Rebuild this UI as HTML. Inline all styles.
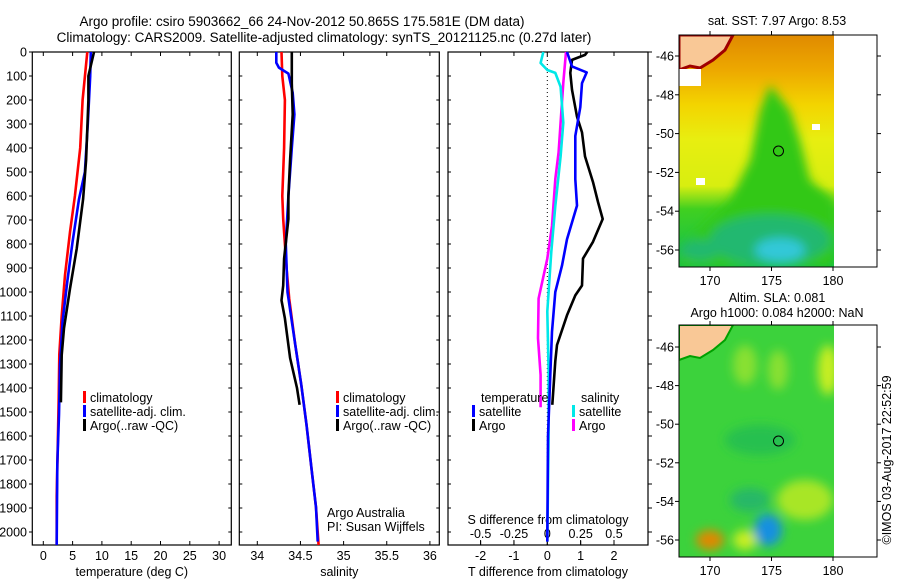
<!DOCTYPE html>
<html><head><meta charset="utf-8">
<style>
body{margin:0;background:#fff;}
svg{display:block;font-family:"Liberation Sans",sans-serif;}
text{font-size:12.5px;fill:#000;}
</style></head>
<body>
<svg id="fig" width="900" height="580" viewBox="0 0 900 580" xmlns="http://www.w3.org/2000/svg">
<defs>
<filter id="blur" x="-20%" y="-20%" width="140%" height="140%"><feGaussianBlur stdDeviation="5"/></filter>
<clipPath id="m1clip"><rect x="679" y="35" width="155" height="232"/></clipPath>
<clipPath id="m2clip"><rect x="679" y="325" width="155" height="232"/></clipPath>
<linearGradient id="sstg" x1="0" y1="0" x2="0" y2="1">
<stop offset="0" stop-color="#e08a00"/><stop offset="0.15" stop-color="#eda800"/><stop offset="0.3" stop-color="#f3d400"/>
<stop offset="0.45" stop-color="#e8ee10"/><stop offset="0.65" stop-color="#d8ee10"/><stop offset="0.75" stop-color="#40d020"/><stop offset="1" stop-color="#10c050"/>
</linearGradient>
</defs>
<text x="302" y="26" text-anchor="middle" style="font-size:13.5px">Argo profile: csiro 5903662_66 24-Nov-2012 50.865S 175.581E (DM data)</text>
<text x="324" y="42" text-anchor="middle" style="font-size:13.5px">Climatology: CARS2009. Satellite-adjusted climatology: synTS_20121125.nc (0.27d later)</text>
<g id="g"></g>
<!-- map 1 -->
<g>
<g clip-path="url(#m1clip)">
<rect x="679" y="35" width="155" height="232" fill="url(#sstg)"/>
<g filter="url(#blur)">
<polygon points="770,85 790,110 800,140 810,180 834,200 834,267 679,267 679,250 700,230 730,200 750,160 760,110" fill="#30c818"/>
<ellipse cx="770" cy="240" rx="60" ry="25" fill="#20b870"/>
<ellipse cx="780" cy="250" rx="25" ry="12" fill="#30c8d8"/>
<ellipse cx="700" cy="250" rx="20" ry="10" fill="#20b870"/>
</g>
<polygon points="679,35 733,35 725,50 713,60 700,68 690,66 679,70" fill="#f9c896" stroke="#a00000" stroke-width="3"/>
<rect x="679" y="69" width="22" height="17" fill="#fff"/>
<rect x="812" y="124" width="8" height="6" fill="#fff"/>
<rect x="696" y="178" width="9" height="7" fill="#fff"/>
</g>
<circle cx="778.5" cy="151" r="5" fill="none" stroke="#000"/>
<rect x="679" y="35" width="198" height="232" fill="none" stroke="#000"/>
<text x="777" y="25" text-anchor="middle">sat. SST: 7.97 Argo: 8.53</text>
</g>
<!-- map 2 -->
<g>
<g clip-path="url(#m2clip)">
<rect x="679" y="325" width="155" height="232" fill="#3cd23c"/>
<g filter="url(#blur)">
<ellipse cx="745" cy="365" rx="12" ry="20" fill="#88e030"/>
<ellipse cx="778" cy="370" rx="10" ry="20" fill="#88e030"/>
<ellipse cx="828" cy="370" rx="10" ry="25" fill="#c8ee20"/>
<ellipse cx="760" cy="440" rx="35" ry="15" fill="#28c050"/>
<ellipse cx="805" cy="500" rx="28" ry="20" fill="#a8e628"/>
<ellipse cx="750" cy="500" rx="20" ry="12" fill="#28b868"/>
<ellipse cx="745" cy="540" rx="12" ry="10" fill="#c8ee20"/>
<ellipse cx="768" cy="530" rx="14" ry="16" fill="#1890e0"/>
<ellipse cx="710" cy="540" rx="14" ry="10" fill="#e08800"/>
</g>
<polygon points="679,325 733,325 725,340 713,350 700,358 690,356 679,360" fill="#f9c896" stroke="#00a000" stroke-width="2"/>
</g>
<circle cx="778.5" cy="441" r="5" fill="none" stroke="#000"/>
<rect x="679" y="325" width="198" height="232" fill="none" stroke="#000"/>
<text x="777" y="302" text-anchor="middle">Altim. SLA: 0.081</text>
<text x="777" y="317" text-anchor="middle">Argo h1000: 0.084 h2000: NaN</text>
</g>
<text transform="translate(891,460) rotate(-90)" text-anchor="middle">©IMOS 03-Aug-2017 22:52:59</text>
</svg>
<script>
// ---------- data ----------
const depthTicks=[0,100,200,300,400,500,600,700,800,900,1000,1100,1200,1300,1400,1500,1600,1700,1800,1900,2000];
const tTicks=[0,5,10,15,20,25,30];
const sTicks=[34,34.5,35,35.5,36];
const sTickLabels=["34","34.5","35","35.5","36"];
const dTTicks=[-2,-1,0,1,2];
const dSTicks=[-0.5,-0.25,0,0.25,0.5];
const dSTickLabels=["-0.5","-0.25","0","0.25","0.5"];
const latTicks=[-46,-48,-50,-52,-54,-56];
const lonTicks=[170,175,180];

const tClimDepth=[0,200,400,600,750,930,1100,1260,1440,1650,1850,2054];
const tClimVal=[7.5,6.7,6.3,5.4,4.56,3.7,3.14,2.73,2.63,2.46,2.29,2.29];
const tSatDepth=[0,100,300,500,613,790,956,1122,1304,1511,1718,2054];
const tSatVal=[8.1,8.0,7.6,7.1,6.1,5.0,4.1,3.3,2.85,2.68,2.39,2.29];
const tArgoDepth=[0,100,200,450,613,820,986,1151,1263,1460];
const tArgoVal=[8.65,7.7,7.7,7.3,6.8,5.7,4.56,3.53,3.14,3.0];

const sClimDepth=[0,100,200,400,600,696,903,1027,1221,1387,1553,1743,1897,2054];
const sClimVal=[34.28,34.29,34.32,34.31,34.29,34.30,34.34,34.37,34.44,34.51,34.57,34.63,34.68,34.71];
const sSatDepth=[0,45,65,90,170,260,400,600,800,1000,1221,1387,1553,1743,1897,2040];
const sSatVal=[34.22,34.22,34.25,34.36,34.41,34.43,34.40,34.36,34.33,34.35,34.44,34.51,34.57,34.63,34.68,34.70];
const sArgoDepth=[0,130,260,450,600,696,861,973,1035,1110,1275,1400,1470];
const sArgoVal=[34.40,34.40,34.41,34.38,34.36,34.36,34.31,34.30,34.28,34.32,34.38,34.46,34.49];

const dTSatDepth=[0,60,85,130,230,350,530,640,780,890,1000,1165,1345,1600,2040];
const dTSatVal=[0.59,0.74,1.18,1.04,0.99,0.84,0.84,0.89,0.59,0.44,0.24,0.14,0.09,0.02,0.0];
const dTArgoDepth=[0,12,33,87,157,269,335,435,542,625,696,791,861,973,1014,1097,1221,1288,1470];
const dTArgoVal=[1.2,1.13,0.74,0.69,0.74,0.89,1.04,1.13,1.37,1.52,1.66,1.37,1.07,1.04,0.84,0.59,0.29,0.24,0.15];
const dSSatDepth=[0,46,75,87,145,294,435,642,832,1081,1329,1600,2040];
const dSSatVal=[-0.03,-0.05,0,0.06,0.1,0.12,0.1,0.06,0.03,0,0.01,0.01,0.0];
const dSArgoDepth=[0,128,294,418,530,725,861,1027,1193,1346,1480];
const dSArgoVal=[0.14,0.12,0.10,0.085,0.06,0.035,0.0,-0.065,-0.07,-0.05,-0.05];

// ---------- scales ----------
const yD=d=>52+d*0.24;
const xT=v=>43.3+v*5.86;
const xS=v=>257.3+(v-34)*86.3;
const xDT=v=>547.3+v*33.35;
const xDS=v=>547.3+v*133.4;
const yLat1=v=>56+(-46-v)*19.4;
const yLat2=v=>347+(-46-v)*19.3;
const xLon=v=>710+(v-170)*12.3;

const NS="http://www.w3.org/2000/svg";
const G=document.getElementById('g');
function mk(tag,attrs,parent){const e=document.createElementNS(NS,tag);for(const k in attrs)e.setAttribute(k,attrs[k]);(parent||G).appendChild(e);return e;}
function txt(x,y,s,anchor,parent){const e=mk('text',{x:x,y:y,'text-anchor':anchor||'middle'},parent);e.textContent=s;return e;}

function panel(x0,x1,name){
  const r=mk('rect',{x:x0,y:52,width:x1-x0,height:493,fill:'none',stroke:'#000','stroke-width':1.2});
  
  
}
panel(32.3,231.3,'temperature-panel');
panel(239.3,439.3,'salinity-panel');
panel(448,648,'difference-panel');

depthTicks.forEach(d=>{
  const y=yD(d);
  mk('line',{x1:29,x2:32.3,y1:y,y2:y,stroke:'#000'});
  const t=txt(27,y+4.5,String(d),'end');
  
  
  if(d>0){[231.3,439.3].forEach(x=>mk('line',{x1:x,x2:x-3,y1:y,y2:y,stroke:'#000'}));
  [239.3,448].forEach(x=>mk('line',{x1:x,x2:x+3,y1:y,y2:y,stroke:'#000'}));}
  mk('line',{x1:648,x2:652,y1:y,y2:y,stroke:'#000'});
});
function xticks(vals,labels,sc,ly,name){
  vals.forEach((v,i)=>{const x=sc(v);
    mk('line',{x1:x,x2:x,y1:52,y2:56,stroke:'#000'});
    mk('line',{x1:x,x2:x,y1:545,y2:541,stroke:'#000'});
    const t=txt(x,ly,labels[i]);
    
    });
}
xticks(tTicks,tTicks.map(String),xT,560,'temperature-tick-label');
xticks(sTicks,sTickLabels,xS,560,'salinity-tick-label');
xticks(dTTicks,dTTicks.map(String),xDT,560,'t-diff-tick-label');
dSTicks.forEach((v,i)=>{const x=xDS(v);mk('line',{x1:x,x2:x,y1:540,y2:545,stroke:'#000'});
  const t=txt(x,538,dSTickLabels[i]);
  
  });
mk('line',{x1:xDT(0),x2:xDT(0),y1:52,y2:545,stroke:'#000','stroke-dasharray':'1,3'});

let t;
t=txt(131.8,576,'temperature (deg C)');
t=txt(339.3,576,'salinity');
t=txt(548,576,'T difference from climatology');
t=txt(548,524,'S difference from climatology');
t=txt(327,517,'Argo Australia','start');
t=txt(327,531,'PI: Susan Wijffels','start');

function line(dep,val,sc,col,name){
  const pts=dep.map((d,i)=>sc(val[i]).toFixed(1)+','+yD(d).toFixed(1)).join(' ');
  const p=mk('polyline',{points:pts,fill:'none',stroke:col,'stroke-width':2.6,'stroke-linejoin':'round'});
  
  
}
line(tClimDepth,tClimVal,xT,'#ff0000','temperature-climatology-line');
line(tSatDepth,tSatVal,xT,'#0000ff','temperature-satellite-line');
line(tArgoDepth,tArgoVal,xT,'#000000','temperature-argo-line');
line(sClimDepth,sClimVal,xS,'#ff0000','salinity-climatology-line');
line(sSatDepth,sSatVal,xS,'#0000ff','salinity-satellite-line');
line(sArgoDepth,sArgoVal,xS,'#000000','salinity-argo-line');
line(dSArgoDepth,dSArgoVal,xDS,'#ff00ff','s-diff-argo-line');
line(dSSatDepth,dSSatVal,xDS,'#00e8e8','s-diff-satellite-line');
line(dTArgoDepth,dTArgoVal,xDT,'#000000','t-diff-argo-line');
line(dTSatDepth,dTSatVal,xDT,'#0000ff','t-diff-satellite-line');

function legend(x,y,col,label,name){
  mk('rect',{x:x,y:y-11,width:3,height:12,fill:col});
  const tt=txt(x+7,y,label,'start');
  
  
}
[[32.3,83],[239.3,336]].forEach(([p,x])=>{
  legend(x,402,'#ff0000','climatology','legend-climatology');
  legend(x,416,'#0000ff','satellite-adj. clim.','legend-satellite-adj');
  legend(x,430,'#000000','Argo(..raw -QC)','legend-argo');
});
t=txt(481,402,'temperature','start');
t=txt(581,402,'salinity','start');
legend(472,416,'#0000ff','satellite','legend-t-satellite');
legend(472,430,'#000000','Argo','legend-t-argo');
legend(572,416,'#00e8e8','satellite','legend-s-satellite');
legend(572,430,'#ff00ff','Argo','legend-s-argo');

function mapAxes(yLat,top,bot,pre){
  latTicks.forEach(v=>{const y=yLat(v);
    mk('line',{x1:679,x2:675,y1:y,y2:y,stroke:'#000'});
    mk('line',{x1:877,x2:881,y1:y,y2:y,stroke:'#000'});
    const tt=txt(674,y+4.5,String(v),'end');
    
    });
  lonTicks.forEach(v=>{const x=xLon(v);
    mk('line',{x1:x,x2:x,y1:top,y2:top-4,stroke:'#000'});
    mk('line',{x1:x,x2:x,y1:bot,y2:bot+4,stroke:'#000'});
    const tt=txt(x,bot+18,String(v));
    
    });
}
mapAxes(yLat1,35,267,'sst-map');
mapAxes(yLat2,325,557,'sla-map');
</script>
</body></html>
